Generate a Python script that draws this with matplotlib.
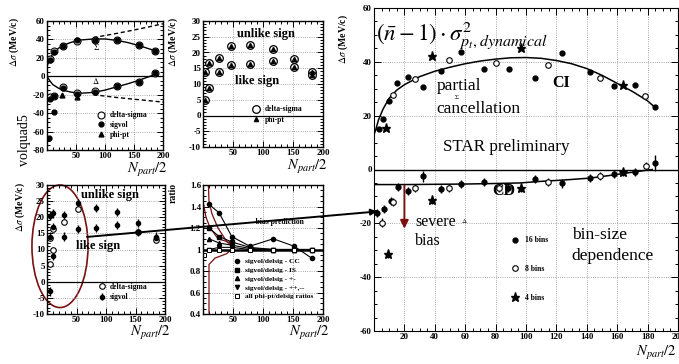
import matplotlib
matplotlib.use("Agg")
import matplotlib.pyplot as plt
from matplotlib.patches import Ellipse
from matplotlib.ticker import MultipleLocator

plt.rcParams["font.family"] = ["Liberation Serif", "DejaVu Serif"]
plt.rcParams["mathtext.fontset"] = "stix"

DARKRED = "#7a1010"

###  panel 1 : sigvol / delta-sigma vs Npart/2 (volquad5)

p1_x = [5.7, 11.4, 27.4, 51.4, 83, 120, 159, 187]
p1_sig_sigvol = [17.4, 26.4, 32.9, 39, 39, 39, 34.4, 27.5]
p1_sig_delsig = [18.5, 27, 33, 38.5, 39.5, 39, 34, 27]
p1_del_sigvol = [-25, -21, -13, -19, -17, -11, -6.5, 3.2]
p1_del_delsig = [-22, -21.5, -12, -18, -16, -10.4, -6, 3.7]
p1_out_x = [11.4, 2.9]
p1_out_y = [-38.5, -67.4]
p1_phipt_x = [25.7, 51]
p1_phipt_y = [-20.5, -22.3]
p1_fit_x = [0, 2, 5, 10, 20, 30, 40, 50, 60, 80, 100, 120, 140, 160, 180, 190]
p1_fit_sig = [11, 14, 19, 24.5, 30.5, 34, 36.5, 38.3, 39.5, 40.5, 40.5, 39, 36.5, 33, 29, 26.5]
p1_fit_del = [0, -2, -5, -9, -13, -15.5, -17, -18, -18.3, -17.5, -15, -11.5, -8, -4, 0.5, 3]
p1_dash_x = [80, 120, 160, 200]
p1_dash_up = [42, 46.5, 51.5, 57]
p1_dash_lo = [-20, -23, -25.5, -28]

###  panel 2 : unlike / like sign

p2_x = [2.8, 10, 27, 47, 79, 116, 152, 182]
p2_unlike = [13.8, 16.7, 18.3, 22.1, 22.5, 21.2, 18, 13.8]
p2_like = [4.8, 8.8, 13.8, 15.9, 16.2, 17.3, 15.4, 12.9]

###  panel 3 : unlike / like sign, sigvol

p3_fill_x = [4.5, 4.5, 5, 11, 11, 11, 28, 28, 52, 52, 83, 83, 118, 118, 154, 154, 185, 185]
p3_fill_y = [14, 20.5, -3, 21.2, 17, 8, 20.7, 14, 24.3, 16.3, 22.8, 16.6, 21.7, 17.6, 18.3, 15.5, 14, 13.5]
p3_open_x = [4.5, 4.5, 11, 11, 28, 52, 154, 185]
p3_open_y = [13.5, 5.4, 16.5, 10, 18.6, 22.5, 15.5, 13]

###  panel 4 : ratios

p4_x = [10, 27, 48, 78, 117, 152, 181]
p4_cc = [1.42, 1.34, 1.12, 1.03, 1.10, 1.03, 0.92]
p4_is = [1.2, 1.12, 1.07, 1.02, 1.0, 1.0, 1.0]
p4_pm = [1.1, 1.06, 1.04, 1.01, 1.0, 1.0, 1.0]
p4_pp = [1.0, 1.02, 1.02, 1.0, 1.0, 1.0, 1.0]
p4_phi_x = [1, 10, 27, 48, 78, 117, 152, 181]
p4_phi = [0.95, 1.0, 1.0, 1.0, 1.0, 1.0, 1.0, 1.0]
p4_bias_a_x = [9, 10, 15, 25, 40, 50]
p4_bias_a = [1.6, 1.45, 1.33, 1.2, 1.07, 1.03]
p4_bias_b_x = [0, 5, 12, 25, 48]
p4_bias_b = [1.45, 1.3, 1.2, 1.1, 1.06]
p4_bias_c_x = [10, 10, 20, 39, 48]
p4_bias_c = [0.41, 0.86, 0.92, 0.96, 1.0]

###  panel 5 : (n-1) sigma^2 dynamical, bin-size dependence

ci16_x = [3, 6, 10, 15, 22.6, 32.5, 44, 57, 72.4, 89, 106, 124, 142, 158, 172, 185]
ci16_y = [15, 18.8, 25.3, 32, 34.2, 30.6, 36.7, 43.6, 37.5, 37.5, 34, 43.2, 36.3, 30.9, 31.5, 23.2]
ci8_x = [12.3, 27, 49.6, 80, 114.7, 149, 178]
ci8_y = [27.8, 33.7, 40.5, 39.5, 39, 34, 27.4]
ci4_x = [8, 38, 96.7, 164]
ci4_y = [15.5, 42.2, 45.3, 31.5]
ci_fit_x = [0, 1, 3, 6, 10, 15, 20, 30, 40, 50, 60, 70, 80, 90, 100, 110,
            120, 130, 140, 150, 160, 170, 180, 185]
ci_fit_y = [13, 14.5, 18.5, 22.5, 26.5, 29.5, 31.5, 34.5, 36.5, 38, 39.3, 40.3,
            41, 41.5, 41.6, 41.3, 40.5, 39.3, 37.5, 35, 32, 29, 25.5, 23]

cd16_x = [2, 6.6, 11, 15.6, 22.6, 32, 43.8, 57, 72.6, 88, 106, 124, 142, 158, 172, 185]
cd16_y = [-16, -14.8, -11.7, -6.4, -8, -2.5, -7.4, -5.3, -4.6, -6.8, -3.7, -5.2, -3.1, -1.5, -1, 2.5]
cd16_err = [1.5, 1.5, 1.5, 1.5, 1.5, 2, 1.5, 1.5, 1.5, 1.5, 1.5, 1.5, 1.5, 1.5, 1.5, 3]
cd8_x = [5, 12.7, 27, 49.6, 82, 114.7, 149, 179]
cd8_y = [-19.7, -12, -6.8, -7, -6.8, -4.6, -2.5, 1.2]
cd4_x = [9.4, 38, 97, 164]
cd4_y = [-31.5, -11.4, -6.8, -1]
cd_fit_x = [0, 20, 40, 60, 80, 96, 110, 125, 142, 158, 170, 183]
cd_fit_y = [-5.6, -5.6, -5.5, -5.4, -5.2, -5, -4.4, -3.9, -3.2, -2, -1, 0]


def style(ax, ymin, ymax, yticks, ylabels, yminor):
    ax.set_xlim(0, 200)
    ax.set_ylim(ymin, ymax)
    ax.set_xticks([50, 100, 150, 200], labels=["50", "100", "150", "200"],
                  fontweight="bold")
    ax.set_yticks(yticks, labels=ylabels, fontweight="bold")
    ax.xaxis.set_minor_locator(MultipleLocator(10))
    ax.yaxis.set_minor_locator(MultipleLocator(yminor))
    ax.tick_params(which="both", direction="in", top=True, right=True,
                   labelsize=6.5, pad=1.5, width=0.7)
    ax.tick_params(which="major", length=4)
    ax.tick_params(which="minor", length=2)
    ax.grid(True, linestyle=":", color="0.55", lw=0.6)
    for s in ax.spines.values():
        s.set_linewidth(1.0)


def npart(ax, x, y):
    ax.text(x, y, r"$N_{part}/2$", transform=ax.transAxes, ha="right",
            va="top", fontsize=10.5)


def dsig(ax, x, y):
    ax.text(x, y, r"$\Delta\sigma$ (MeV/c)", transform=ax.transAxes,
            rotation=90, ha="center", va="top", fontsize=7, fontweight="bold")


fig = plt.figure(figsize=(6.79, 3.64), dpi=100)

###  panel 1

ax1 = fig.add_axes([47 / 679, 1 - 150 / 364, 116 / 679, 129 / 364])
style(ax1, -80, 60, list(range(-80, 61, 20)),
      [str(v) for v in range(-80, 61, 20)], 5)
ax1.axhline(0, color="black", lw=0.9)
ax1.plot(p1_fit_x, p1_fit_sig, color="black", lw=1.0)
ax1.plot(p1_fit_x, p1_fit_del, color="black", lw=1.0)
ax1.plot(p1_dash_x, p1_dash_up, color="black", lw=1.0, ls=(0, (3, 2)),
         clip_on=False)
ax1.plot(p1_dash_x, p1_dash_lo, color="black", lw=1.0, ls=(0, (3, 2)))
h_ds, = ax1.plot(p1_x + p1_x, p1_sig_delsig + p1_del_delsig, "o", mfc="white",
                 mec="black", ms=5, mew=0.8, label="delta-sigma")
h_sv, = ax1.plot(p1_x + p1_x + p1_out_x, p1_sig_sigvol + p1_del_sigvol + p1_out_y,
                 "o", color="black", ms=3.5, label="sigvol")
h_pp, = ax1.plot(p1_phipt_x, p1_phipt_y, "^", color="black", ms=3.5,
                 label="phi-pt")
ax1.text(85, 28, r"$\Sigma$", fontsize=6, ha="center")
ax1.text(85, -8, r"$\Delta$", fontsize=6, ha="center")
ax1.legend(handles=[h_ds, h_sv, h_pp], loc="upper left",
           bbox_to_anchor=(0.40, 0.33), frameon=False, handlelength=1.0,
           handletextpad=0.6, labelspacing=0.25, borderpad=0,
           prop={"size": 5.5, "weight": "bold"})
dsig(ax1, -0.28, 1.03)
ax1.text(-0.195, 0.08, "volquad5", transform=ax1.transAxes, rotation=90,
         ha="center", va="center", fontsize=10)
npart(ax1, 1.04, -0.085)

###  panel 2

ax2 = fig.add_axes([203 / 679, 1 - 147 / 364, 120 / 679, 126 / 364])
style(ax2, -10, 30, list(range(-10, 31, 5)),
      [str(v) for v in range(-10, 31, 5)], 1)
ax2.axhline(0, color="black", lw=0.9)
h2_ds, = ax2.plot(p2_x + p2_x, p2_unlike + p2_like, "o", mfc="white",
                  mec="black", ms=5.5, mew=0.9, label="delta-sigma")
h2_pp, = ax2.plot(p2_x + p2_x, p2_unlike + p2_like, "^", color="black",
                  ms=3, label="phi-pt")
ax2.text(105, 26, "unlike sign", fontsize=9, fontweight="bold", ha="center",
         va="center")
ax2.text(90, 11, "like sign", fontsize=9, fontweight="bold", ha="center",
         va="center")
ax2.legend(handles=[h2_ds, h2_pp], loc="upper left",
           bbox_to_anchor=(0.38, 0.36), frameon=False, handlelength=1.0,
           handletextpad=0.6, labelspacing=0.3, borderpad=0,
           prop={"size": 5.5, "weight": "bold"})
dsig(ax2, -0.25, 1.03)
npart(ax2, 1.04, -0.09)

###  panel 3

ax3 = fig.add_axes([47 / 679, 1 - 314 / 364, 118 / 679, 129 / 364])
style(ax3, -10, 30, list(range(-10, 31, 5)),
      [str(v) for v in range(-10, 31, 5)], 1)
ax3.axhline(0, color="black", lw=0.9)
h3_sv = ax3.errorbar(p3_fill_x, p3_fill_y, yerr=1.3, fmt="o", color="black",
                     ms=3, elinewidth=1.0, label="sigvol")
h3_ds, = ax3.plot(p3_open_x, p3_open_y, "o", mfc="white", mec="black", ms=4,
                  mew=0.8, label="delta-sigma")
ax3.text(107, 27, "unlike sign", fontsize=9, fontweight="bold", ha="center",
         va="center")
ax3.text(87, 11, "like sign", fontsize=9, fontweight="bold", ha="center",
         va="center")
ax3.add_patch(Ellipse((22, 11), 95, 38, fill=False, ec=DARKRED, lw=1.2,
                      clip_on=False))
ax3.legend(handles=[h3_ds, h3_sv], loc="upper left",
           bbox_to_anchor=(0.40, 0.27), frameon=False, handlelength=1.0,
           handletextpad=0.6, labelspacing=0.3, borderpad=0,
           prop={"size": 5.5, "weight": "bold"})
dsig(ax3, -0.23, 1.02)
npart(ax3, 1.05, -0.08)

###  panel 4

ax4 = fig.add_axes([203 / 679, 1 - 314 / 364, 120 / 679, 129 / 364])
r_ticks = [0.4, 0.6, 0.8, 1.0, 1.2, 1.4, 1.6]
style(ax4, 0.4, 1.6, r_ticks, ["0.4", "0.6", "0.8", "1", "1.2", "1.4", "1.6"],
      0.05)
for bx, by in [(p4_bias_a_x, p4_bias_a), (p4_bias_b_x, p4_bias_b),
               (p4_bias_c_x, p4_bias_c)]:
    ax4.plot(bx, by, color=DARKRED, lw=0.9)
ax4.axhline(1.0, color="black", lw=1.8)
h4 = []
for yy, mk, lab in [(p4_cc, "o", "sigvol/delsig - CC"),
                    (p4_is, "s", "sigvol/delsig - IS"),
                    (p4_pm, "^", "sigvol/delsig - +-"),
                    (p4_pp, "v", "sigvol/delsig - ++,--")]:
    h, = ax4.plot(p4_x, yy, marker=mk, color="black", lw=0.8, ms=3,
                  label=lab)
    h4.append(h)
h, = ax4.plot(p4_phi_x, p4_phi, "s", mfc="white", mec="black", ms=3.5,
              mew=0.7, label="all phi-pt/delsig ratios")
h4.append(h)
ax4.text(72, 1.24, "— bias prediction", fontsize=5.5, fontweight="bold")
ax4.legend(handles=h4, loc="upper left", bbox_to_anchor=(0.22, 0.46),
           frameon=False, handlelength=1.0, handletextpad=0.6,
           labelspacing=0.35, borderpad=0,
           prop={"size": 5.3, "weight": "bold"})
for line in ax4.get_legend().get_lines():
    line.set_linestyle("none")
ax4.text(-0.25, 1.02, "ratio", transform=ax4.transAxes, rotation=90,
         ha="center", va="top", fontsize=7, fontweight="bold")
npart(ax4, 1.06, -0.08)

###  panel 5

ax5 = fig.add_axes([374 / 679, 1 - 331 / 364, 304 / 679, 323 / 364])
ax5.set_xlim(0, 200)
ax5.set_ylim(-60, 60)
ax5.set_xticks(list(range(20, 201, 20)),
               labels=[str(v) for v in range(20, 201, 20)], fontweight="bold")
ax5.set_yticks(list(range(-60, 61, 20)),
               labels=[str(v) for v in range(-60, 61, 20)], fontweight="bold")
ax5.xaxis.set_minor_locator(MultipleLocator(5))
ax5.yaxis.set_minor_locator(MultipleLocator(5))
ax5.tick_params(which="both", direction="in", top=True, right=True,
                labelsize=6.5, pad=1.5, width=0.7)
ax5.tick_params(which="major", length=5)
ax5.tick_params(which="minor", length=2.5)
ax5.grid(True, linestyle=":", color="0.55", lw=0.6)
ax5.axhline(0, color="black", lw=1.0)
ax5.plot(ci_fit_x, ci_fit_y, color="black", lw=1.1)
ax5.plot(cd_fit_x, cd_fit_y, color="black", lw=1.1)

h16, = ax5.plot(ci16_x, ci16_y, "o", color="black", ms=3.5, label="16 bins")
h8, = ax5.plot(ci8_x, ci8_y, "o", mfc="white", mec="black", ms=4, mew=0.8,
               label="8 bins")
h4s, = ax5.plot(ci4_x, ci4_y, "*", color="black", ms=6.5, label="4 bins")
ax5.errorbar(cd16_x, cd16_y, yerr=cd16_err, fmt="o", color="black", ms=3.5,
             elinewidth=1.0)
ax5.errorbar(cd8_x, cd8_y, yerr=1.5, fmt="o", mfc="white", mec="black",
             ecolor="black", ms=4, mew=0.8, elinewidth=1.0)
ax5.errorbar(cd4_x, cd4_y, yerr=1.5, fmt="*", color="black", ms=6.5,
             elinewidth=1.0)

ax5.text(1, 48, r"$(\bar{n}-1)\cdot\sigma^2_{p_t,dynamical}$", fontsize=16.5)
ax5.text(41, 29.5, "partial", fontsize=12.5, va="baseline")
ax5.text(41, 21, "cancellation", fontsize=12.5, va="baseline")
ax5.text(52.5, 26.2, r"$\Sigma$", fontsize=4.5)
ax5.text(117, 30.7, "CI", fontsize=11.5, fontweight="bold", va="baseline")
ax5.text(87, 8.5, "STAR preliminary", fontsize=12.3, ha="center",
         va="center")
ax5.text(78, -9.3, "CD", fontsize=11.5, fontweight="bold", va="baseline")
ax5.text(27, -21, "severe", fontsize=11.5, va="baseline")
ax5.text(27, -28, "bias", fontsize=11.5, va="baseline")
ax5.text(57, -20, r"$\Delta$", fontsize=5)
ax5.text(130, -26, "bin-size", fontsize=12.5, va="baseline")
ax5.text(130, -33.5, "dependence", fontsize=12.5, va="baseline")
ax5.annotate("", xy=(20, -23), xytext=(20, -5),
             arrowprops=dict(arrowstyle="-|>", color=DARKRED, lw=1.4,
                             mutation_scale=12))
ax5.legend(handles=[h16, h8, h4s], loc="upper left",
           bbox_to_anchor=(0.44, 0.305), frameon=False, handlelength=1.0,
           handletextpad=0.8, labelspacing=2.7, borderpad=0,
           prop={"size": 5.5, "weight": "bold"})
ax5.text(-0.1, 0.98, r"$\Delta\sigma$ (MeV/c)", transform=ax5.transAxes,
         rotation=90, ha="center", va="top", fontsize=7, fontweight="bold")
npart(ax5, 0.995, -0.04)

# long pointer from the bottom-left panel to the big one
ax5.annotate("", xy=(2, -15.6), xycoords="data", xytext=(67.8, 13.9),
             textcoords=ax3.transData, annotation_clip=False,
             arrowprops=dict(arrowstyle="-|>", color="black", lw=1.4,
                             mutation_scale=9, shrinkA=0, shrinkB=0))

fig.savefig("out.png", dpi=100)
